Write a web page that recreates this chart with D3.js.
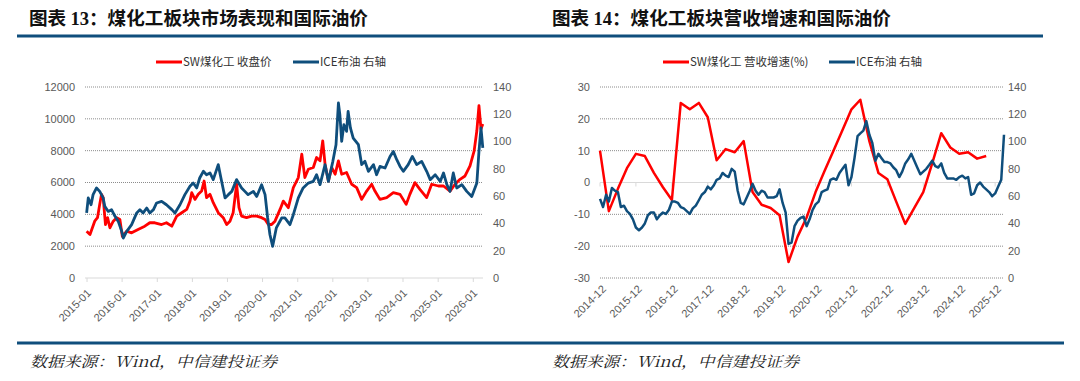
<!DOCTYPE html>
<html>
<head>
<meta charset="utf-8">
<script src="https://cdn.jsdelivr.net/npm/d3@7"></script>
<style>
  body { margin: 0; background: #fff; }
  svg { display: block; }
</style>
</head>
<body>
<svg id="chart" width="1080" height="381"></svg>
<script>
// ---- left chart: SW coal chemical index close (left axis) and ICE Brent (right axis)
var coalDates = ["2014-12-28","2015-02-01","2015-03-22","2015-04-20","2015-05-13","2015-06-01","2015-06-18","2015-07-12","2015-08-03","2015-08-27","2015-10-01","2015-11-06","2015-12-09",
  "2016-01-03","2016-02-18","2016-04-09","2016-06-15","2016-08-24","2016-10-15","2016-12-06",
  "2017-02-15","2017-04-06","2017-06-01","2017-07-22","2017-09-12","2017-11-03","2017-12-07","2017-12-25",
  "2018-01-28","2018-03-03","2018-04-07","2018-05-03","2018-05-28","2018-07-03","2018-08-06","2018-09-27","2018-11-18","2018-12-24",
  "2019-01-27","2019-03-01","2019-04-06","2019-05-01","2019-05-28","2019-07-18","2019-09-09","2019-11-01","2019-12-22",
  "2020-01-27","2020-03-01","2020-04-04","2020-05-09","2020-07-01","2020-08-04","2020-09-25","2020-11-16",
  "2021-01-07","2021-02-12","2021-03-16","2021-04-21","2021-06-12","2021-07-16","2021-08-21","2021-09-18","2021-10-12","2021-11-16","2021-12-21",
  "2022-01-25","2022-02-28","2022-04-03","2022-05-24","2022-07-16","2022-09-06","2022-10-28","2022-12-19",
  "2023-02-09","2023-03-15","2023-05-06","2023-07-15","2023-09-22","2023-12-01",
  "2024-02-03","2024-03-12","2024-05-04","2024-06-25","2024-09-03","2024-10-25",
  "2025-01-03","2025-02-25","2025-05-04","2025-06-25","2025-08-16","2025-10-07","2025-11-28",
  "2026-01-10","2026-02-07","2026-03-01","2026-03-22","2026-04-10"];
var coalClose = [2940,2730,3570,3790,4625,5255,5050,3360,3790,3155,3570,3790,3680,
  2625,2940,2840,3050,3255,3470,3470,
  3360,3470,3255,3890,4100,4310,4830,5360,
  4940,5255,5460,6095,5050,5255,4730,4100,3790,3360,
  3570,4100,5890,4420,3890,3790,3890,3890,3790,
  3680,3360,3360,3570,4310,4830,4420,5680,
  6310,7780,6310,6830,6940,7570,7360,8620,7150,6100,6940,
  6520,7360,6520,6630,5890,5680,4940,5460,
  5890,5460,4940,5050,5360,5255,
  4625,5255,5995,5570,5050,5890,
  5780,5780,5460,5890,6200,6410,7040,
  7990,9250,10830,9360,9670];

var brentDates = ["2014-12-28","2015-01-14","2015-02-12","2015-03-05","2015-04-10","2015-05-13","2015-06-18","2015-07-05","2015-08-10","2015-09-13","2015-10-19","2015-11-22","2015-12-28",
  "2016-01-13","2016-02-18","2016-04-09","2016-06-01","2016-07-04","2016-08-07","2016-09-13","2016-10-15","2016-11-22","2016-12-25",
  "2017-02-15","2017-04-06","2017-06-01","2017-07-04","2017-08-25","2017-10-15","2017-12-07",
  "2018-01-10","2018-02-15","2018-03-18","2018-04-25","2018-05-28","2018-07-03","2018-08-06","2018-09-27","2018-10-25","2018-12-07",
  "2019-01-10","2019-02-15","2019-04-06","2019-05-28","2019-07-01","2019-08-04","2019-09-27","2019-11-01","2019-12-22",
  "2020-01-27","2020-02-23","2020-03-18","2020-04-15","2020-05-23","2020-07-18","2020-08-20","2020-10-12","2020-11-16",
  "2021-01-07","2021-02-26","2021-04-21","2021-06-12","2021-07-16","2021-08-21","2021-10-12","2021-11-16",
  "2022-01-01","2022-02-03","2022-02-28","2022-03-15","2022-04-03","2022-04-26","2022-05-24","2022-06-09","2022-07-03","2022-08-01","2022-09-24","2022-10-28","2022-12-01",
  "2023-01-06","2023-02-28","2023-04-01","2023-05-06","2023-06-28","2023-08-19","2023-09-22","2023-10-28","2023-12-01",
  "2024-01-04","2024-02-24","2024-04-07","2024-05-22","2024-07-13","2024-09-03","2024-10-10","2024-12-01",
  "2025-01-22","2025-02-25","2025-04-01","2025-05-04","2025-06-07","2025-07-13","2025-09-04","2025-10-25","2025-12-16",
  "2026-02-07","2026-03-01","2026-03-22","2026-04-10"];
var brentPrice = [47.7,58.7,53.7,61.1,66.0,63.5,58.7,52.5,48.8,50.1,45.2,41.5,34.2,
  29.3,34.2,39.1,47.7,50.1,47.7,51.3,47.7,50.1,55.0,
  56.2,53.7,50.1,47.7,53.7,61.1,67.2,
  69.6,66.0,73.3,78.2,75.7,77.0,72.1,83.1,73.3,58.7,
  61.1,63.5,72.1,66.0,63.5,61.1,63.5,59.8,68.4,
  61.1,44.0,31.7,23.2,36.7,44.0,44.0,39.1,46.4,
  58.7,66.0,69.6,70.8,75.7,68.4,83.1,70.8,
  85.5,97.7,128.3,119.7,100.1,112.4,107.5,122.1,110.0,102.6,97.7,83.1,85.5,
  78.2,83.1,75.7,81.8,80.6,89.1,92.8,86.7,81.8,
  78.2,83.1,89.1,83.1,85.5,78.2,72.1,75.7,
  70.8,77.0,68.4,63.5,77.0,66.0,68.4,63.5,59.8,
  69.6,92.8,110.0,95.3];

var leftXTicks = ["2015-01","2016-01","2017-01","2018-01","2019-01","2020-01","2021-01","2022-01","2023-01","2024-01","2025-01","2026-01"];
var coalTicks = [0,2000,4000,6000,8000,10000,12000];
var oilTicks = [0,20,40,60,80,100,120,140];

// ---- right chart: revenue growth (quarterly, %) and ICE Brent (monthly, right axis)
var growthStart = "2014-12";
var growthValues = [10,-9,-2,4.5,9,8.3,3,-1.5,-5.5,25,23,25,20.5,7,10.5,9.5,13,-3,-7,-8,-10.3,-25,-17,-11,
  -3,3.5,10,16.5,23,26,13,3,1,-6,-13,-8,-3,6,15.5,11,9,9.5,7.5,8.3];
var brentMonthStart = "2014-12";
var brentMonthly = [58,52,61,56,66,64,63,52,53,49,47,43,
  37,35,37,40,46,48,48,43,46,48,47,50,
  56,56,55,52,51,49,47,51,53,57,61,63,
  67,65,68,72,73,77,75,74,80,78,64,55,
  54,59,64,69,64,61,64,63,59,59,59,60,
  65,55,48,25,26,38,42,44,45,38,43,50,
  54,56,63,64,65,72,73,72,77,80,83,68,
  74,88,104,106,108,115,105,99,86,91,88,85,
  85,84,81,79,74,78,84,87,91,86,81,76,
  78,80,83,86,82,81,84,77,73,73,73,72,
  74,75,73,74,61,62,68,70,67,65,63,60,
  62,67,72,105];
var rightXTicks = ["2014-12","2015-12","2016-12","2017-12","2018-12","2019-12","2020-12","2021-12","2022-12","2023-12","2024-12","2025-12"];
var growthTicks = [-30,-20,-10,0,10,20,30];

var RED = "#ff0000", BLUE = "#0f4e7c", TXT = "#595959";
var SANS = "'Liberation Sans', Arial, sans-serif";
var CJK = "'Noto Sans CJK SC', 'Noto Sans', sans-serif";

var svg = d3.select("#chart");
var parseDay = d3.timeParse("%Y-%m-%d");
var parseMonth = d3.timeParse("%Y-%m");

//Header / footer rules
svg.append("line").attr("x1", 17).attr("x2", 1043).attr("y1", 36).attr("y2", 36)
  .attr("stroke", BLUE).attr("stroke-width", 3);
svg.append("line").attr("x1", 17).attr("x2", 1064).attr("y1", 343).attr("y2", 343)
  .attr("stroke", BLUE).attr("stroke-width", 3);

function title(x, num, rest) {
  var t = svg.append("text").attr("x", x).attr("y", 25)
    .attr("font-family", CJK).attr("font-size", 18.6).attr("font-weight", "bold").attr("fill", "#111");
  t.append("tspan").text("图表 ");
  t.append("tspan").attr("font-family", "'Liberation Serif', serif").text(num);
  t.append("tspan").text("：" + rest);
}
title(29, "13", "煤化工板块市场表现和国际油价");
title(552, "14", "煤化工板块营收增速和国际油价");

function footer(x) {
  svg.append("text").attr("x", x).attr("y", 367)
    .attr("font-family", "'Noto Serif CJK SC', 'Noto Sans CJK SC', serif").attr("font-size", 15)
    .attr("font-style", "italic").attr("fill", "#222")
    .attr("textLength", 247).attr("lengthAdjust", "spacingAndGlyphs")
    .text("数据来源：Wind，中信建投证券");
}
footer(30);
footer(552);

function legend(items) {
  items.forEach(function(it) {
    svg.append("line").attr("x1", it.x).attr("x2", it.x + 26).attr("y1", 62).attr("y2", 62)
      .attr("stroke", it.color).attr("stroke-width", 3);
    svg.append("text").attr("x", it.x + 27).attr("y", 62).attr("dy", "0.35em")
      .attr("font-family", CJK).attr("font-size", 11.5).attr("fill", "#333").text(it.label);
  });
}

function gridAndLabels(g, yLeft, leftTicks, yRight, rightTicks, x0, x1, zero, leftX, rightX) {
  leftTicks.forEach(function(v) {
    g.append("line").attr("x1", x0).attr("x2", x1).attr("y1", yLeft(v)).attr("y2", yLeft(v))
      .attr("stroke", v === zero ? "#d9d9d9" : "#8c8c8c")
      .attr("stroke-dasharray", v === zero ? null : "1,1");
    g.append("text").attr("x", leftX).attr("y", yLeft(v)).attr("dy", "0.35em")
      .attr("text-anchor", "end").attr("font-family", SANS).attr("font-size", 11).attr("fill", TXT)
      .text(v);
  });
  rightTicks.forEach(function(v) {
    g.append("text").attr("x", rightX).attr("y", yRight(v)).attr("dy", "0.35em")
      .attr("font-family", SANS).attr("font-size", 11).attr("fill", TXT).text(v);
  });
}

function dateLabels(g, x, ticks, parser, y0, dx, dy) {
  ticks.forEach(function(d) {
    g.append("text")
      .attr("transform", "translate(" + (x(parser(d)) + dx) + "," + (y0 + dy) + ") rotate(-45)")
      .attr("text-anchor", "end").attr("dy", "0.35em")
      .attr("font-family", SANS).attr("font-size", 11).attr("fill", TXT).text(d);
  });
}

// ================= chart 13 =================
var g1 = svg.append("g");
var x1 = d3.scaleTime().domain([new Date(2014, 11, 11), new Date(2026, 3, 12)]).range([85, 483]);
var yCoal = d3.scaleLinear().domain([0, 12000]).range([278, 87]);
var yOil1 = d3.scaleLinear().domain([0, 140]).range([278, 87]);

gridAndLabels(g1, yCoal, coalTicks, yOil1, oilTicks, 85, 483, 0, 75, 493);
leftXTicks.forEach(function(d) {
  var px = x1(parseMonth(d));
  g1.append("line").attr("x1", px).attr("x2", px).attr("y1", 278).attr("y2", 282).attr("stroke", "#d9d9d9");
});
dateLabels(g1, x1, leftXTicks, parseMonth, 278, 2, 13);

var coalLine = d3.line()
  .x(function(d, i) { return x1(parseDay(coalDates[i])); })
  .y(function(d) { return yCoal(d); });
var oilLine1 = d3.line()
  .x(function(d, i) { return x1(parseDay(brentDates[i])); })
  .y(function(d) { return yOil1(d); });

g1.append("path").attr("d", coalLine(coalClose)).attr("fill", "none")
  .attr("stroke", RED).attr("stroke-width", 2.8).attr("stroke-linejoin", "round");
g1.append("path").attr("d", oilLine1(brentPrice)).attr("fill", "none")
  .attr("stroke", BLUE).attr("stroke-width", 2.8).attr("stroke-linejoin", "round");

legend([{x: 156, color: RED, label: "SW煤化工 收盘价"}, {x: 293, color: BLUE, label: "ICE布油 右轴"}]);

// ================= chart 14 =================
var g2 = svg.append("g");
var x2 = d3.scaleTime().domain([parseMonth("2014-12"), parseMonth("2026-03")]).range([600, 1004]);
var yGrowth = d3.scaleLinear().domain([-30, 30]).range([278, 87]);
var yOil2 = d3.scaleLinear().domain([0, 140]).range([278, 87]);

gridAndLabels(g2, yGrowth, growthTicks, yOil2, oilTicks, 600, 1003, 0, 590, 1008);
rightXTicks.forEach(function(d) {
  var px = x2(parseMonth(d));
  g2.append("line").attr("x1", px).attr("x2", px).attr("y1", yGrowth(0)).attr("y2", yGrowth(0) + 4).attr("stroke", "#d9d9d9");
});
dateLabels(g2, x2, rightXTicks, parseMonth, 278, 4, 9);

var growthLine = d3.line()
  .x(function(d, i) { return x2(d3.timeMonth.offset(parseMonth(growthStart), i * 3)); })
  .y(function(d) { return yGrowth(d); });
var oilLine2 = d3.line()
  .x(function(d, i) { return x2(d3.timeMonth.offset(parseMonth(brentMonthStart), i)); })
  .y(function(d) { return yOil2(d); });

g2.append("path").attr("d", growthLine(growthValues)).attr("fill", "none")
  .attr("stroke", RED).attr("stroke-width", 2.5).attr("stroke-linejoin", "round");
g2.append("path").attr("d", oilLine2(brentMonthly)).attr("fill", "none")
  .attr("stroke", BLUE).attr("stroke-width", 2.5).attr("stroke-linejoin", "round");

legend([{x: 663, color: RED, label: "SW煤化工 营收增速(%)"}, {x: 829, color: BLUE, label: "ICE布油 右轴"}]);
</script>
</body>
</html>
